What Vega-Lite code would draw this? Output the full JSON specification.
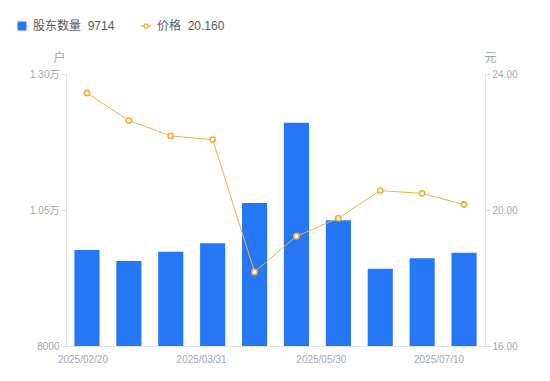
{
  "$schema": "https://vega.github.io/schema/vega-lite/v6.json",
  "width": 419,
  "height": 272,
  "autosize": {"type": "none"},
  "padding": {"left": 66, "top": 74, "right": 65, "bottom": 35},
  "background": "white",
  "data": {
    "values": [
      {"date": "2025/02/20", "holders": 9765, "price": 23.44},
      {"date": "2025/02/28", "holders": 9562, "price": 22.63},
      {"date": "2025/03/10", "holders": 9734, "price": 22.18},
      {"date": "2025/03/31", "holders": 9888, "price": 22.07},
      {"date": "2025/04/18", "holders": 10629, "price": 18.18},
      {"date": "2025/04/30", "holders": 12105, "price": 19.23},
      {"date": "2025/05/30", "holders": 10311, "price": 19.76},
      {"date": "2025/06/10", "holders": 9421, "price": 20.57},
      {"date": "2025/06/20", "holders": 9612, "price": 20.49},
      {"date": "2025/07/10", "holders": 9714, "price": 20.16}
    ]
  },
  "encoding": {
    "x": {
      "field": "date",
      "type": "ordinal",
      "sort": null,
      "scale": {"paddingInner": 0.4, "paddingOuter": 0.2},
      "axis": {
        "title": null,
        "ticks": false,
        "labelAngle": 0,
        "labelPadding": 8,
        "labelOverlap": false,
        "labelExpr": "(datum.value == '2025/02/20' || datum.value == '2025/03/31' || datum.value == '2025/05/30' || datum.value == '2025/07/10') ? datum.label : ''",
        "labelAlign": {"condition": {"test": "datum.value == '2025/07/10'", "value": "right"}, "value": "center"},
        "labelOffset": {
          "condition": [
            {"test": "datum.value == '2025/02/20'", "value": -4},
            {"test": "datum.value == '2025/03/31'", "value": -11},
            {"test": "datum.value == '2025/05/30'", "value": -17}
          ],
          "value": 0
        }
      }
    }
  },
  "layer": [
    {
      "mark": {"type": "bar", "color": "#2677F5", "clip": true},
      "encoding": {
        "y": {
          "field": "holders",
          "type": "quantitative",
          "scale": {"domain": [8000, 13000], "nice": false, "zero": false},
          "axis": {
            "orient": "left",
            "values": [8000, 10500, 13000],
            "labelExpr": "datum.value == 8000 ? '8000' : format(datum.value / 10000, '.2f') + '万'",
            "tickSize": 5,
            "labelPadding": 2,
            "title": "户",
            "titleAngle": 0,
            "titleX": -7,
            "titleY": -17,
            "titleAlign": "center",
            "titleBaseline": "middle"
          }
        },
        "y2": {"datum": 8000},
        "color": {
          "datum": "股东数量",
          "type": "nominal",
          "scale": {"range": ["#2677F5"]},
          "legend": {
            "orient": "none",
            "legendX": -50,
            "legendY": -54,
            "title": null,
            "symbolType": "square",
            "symbolSize": 81,
            "symbolStrokeWidth": 0,
            "labelOffset": 5,
            "labelExpr": "datum.label + '\u00a0\u00a09714'"
          }
        }
      }
    },
    {
      "mark": {"type": "line", "color": "#F5B13D", "strokeWidth": 1},
      "encoding": {
        "y": {
          "field": "price",
          "type": "quantitative",
          "scale": {"domain": [16, 24], "nice": false, "zero": false},
          "axis": {
            "orient": "right",
            "values": [16, 20, 24],
            "format": ".2f",
            "tickSize": 5,
            "labelPadding": 2,
            "title": "元",
            "titleAngle": 0,
            "titleX": 5,
            "titleY": -17,
            "titleAlign": "center",
            "titleBaseline": "middle"
          }
        },
        "stroke": {
          "datum": "价格",
          "type": "nominal",
          "scale": {"range": ["#F5B13D"]},
          "legend": {
            "orient": "none",
            "legendX": 74,
            "legendY": -54,
            "title": null,
            "symbolType": "M-1,0L-0.4,0M0.4,0L1,0M0.4,0A0.4,0.4 0 1,1 -0.4,0A0.4,0.4 0 1,1 0.4,0",
            "symbolSize": 100,
            "symbolStrokeWidth": 1.5,
            "symbolFillColor": "white",
            "labelOffset": 5,
            "labelExpr": "datum.label + '\u00a0\u00a020.160'"
          }
        }
      }
    },
    {
      "mark": {"type": "point", "shape": "circle", "filled": true, "fill": "white", "stroke": "#F5AD35", "strokeWidth": 1.6, "size": 28, "opacity": 1},
      "encoding": {
        "y": {"field": "price", "type": "quantitative", "scale": {"domain": [16, 24], "nice": false, "zero": false}, "axis": null}
      }
    }
  ],
  "resolve": {"scale": {"y": "independent"}},
  "config": {
    "view": {"stroke": null},
    "font": "Liberation Sans, Noto Sans CJK SC",
    "axis": {
      "grid": false,
      "domainColor": "#e2e3e8",
      "tickColor": "#e2e3e8",
      "labelColor": "#a3a6b5",
      "labelFont": "Liberation Sans, Noto Sans CJK SC",
      "labelFontSize": 10,
      "titleColor": "#9a9dab",
      "titleFont": "Noto Sans CJK SC",
      "titleFontSize": 12,
      "titleFontWeight": "normal"
    },
    "legend": {
      "padding": 0,
      "labelFont": "Liberation Sans, Noto Sans CJK SC",
      "labelFontSize": 12,
      "labelColor": "#555a66",
      "direction": "horizontal"
    }
  }
}
